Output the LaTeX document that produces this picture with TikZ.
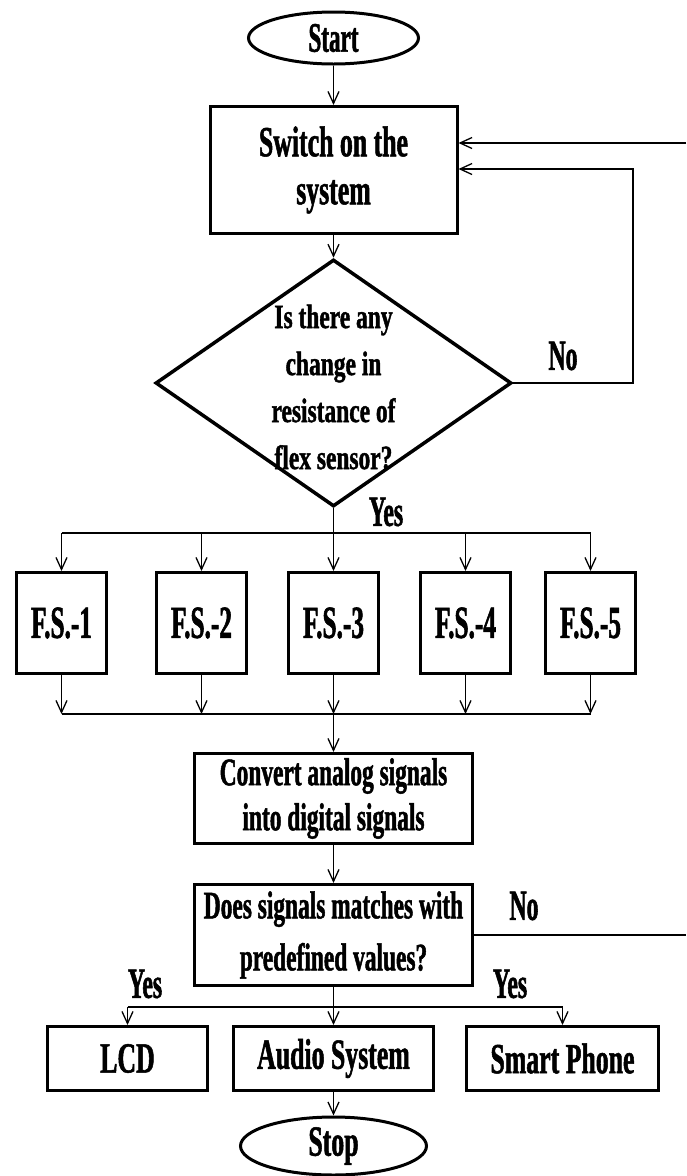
\documentclass[tikz,border=0pt]{standalone}
\usepackage{fontspec}
\setmainfont{Liberation Serif}
\newfontfamily\fA{Liberation Serif}[FakeStretch=0.55,FakeBold=1.2]
\newfontfamily\fB{Liberation Serif}[FakeStretch=0.60,FakeBold=1.2]
\newfontfamily\fC{Liberation Serif}[FakeStretch=0.69,FakeBold=1.2]
\usetikzlibrary{shapes.geometric,arrows.meta,calc}
\begin{document}
\begin{tikzpicture}[x=1pt,y=-1pt,
  box/.style={draw, line width=3pt, inner sep=0pt, align=center},
  oval/.style={draw, ellipse, line width=3pt, inner sep=0pt},
  arr/.style={line width=1.3pt, -{Straight Barb[length=12pt,width=11pt,line width=1.3pt]}},
  arrw/.style={line width=2pt, -{Straight Barb[length=12pt,width=11pt,line width=1.3pt]}},
  ln/.style={line width=2pt},
  big/.style={font=\fB\bfseries\fontsize{43}{48}\selectfont},
  mid/.style={font=\fB\bfseries\fontsize{39}{45}\selectfont},
  dec/.style={font=\fB\bfseries\fontsize{39}{52}\selectfont},
  diat/.style={font=\fC\bfseries\fontsize{34}{47}\selectfont, align=center, inner sep=0pt},
  fsb/.style={font=\fA\bfseries\fontsize{46}{50}\selectfont},
  lab/.style={font=\fA\bfseries\fontsize{43}{48}\selectfont, inner sep=0pt},
]
\useasboundingbox (0,0) rectangle (686,1176);
\fill[white] (0,0) rectangle (686,1176);

% terminals and boxes
\node[oval, minimum width=170pt, minimum height=52pt, font=\fA\bfseries\fontsize{42}{46}\selectfont] (start) at (333.5,38) {Start};
\node[box, big, minimum width=247pt, minimum height=127pt] (sw) at (333.5,170) {Switch on the\\system};
\node[draw, diamond, line width=3.5pt, minimum width=356pt, minimum height=247pt, inner sep=0pt] (d) at (333.5,383) {};
\node[diat] (dt) at (333.5,387) {Is there any\\change in\\resistance of\\flex sensor?};

\node[box, fsb, minimum width=90pt, minimum height=101pt] (f1) at (61.5,623) {F.S.-1};
\node[box, fsb, minimum width=90pt, minimum height=101pt] (f2) at (201.5,623) {F.S.-2};
\node[box, fsb, minimum width=90pt, minimum height=101pt] (f3) at (333.5,623) {F.S.-3};
\node[box, fsb, minimum width=90pt, minimum height=101pt] (f4) at (465.5,623) {F.S.-4};
\node[box, fsb, minimum width=90pt, minimum height=101pt] (f5) at (590.5,623) {F.S.-5};

\node[box, mid, minimum width=278pt, minimum height=90pt] (cv) at (333.5,798.5) {Convert analog signals\\into digital signals};
\node[box, dec, minimum width=278pt, minimum height=101pt] (dc) at (333.5,935) {Does signals matches with\\predefined values?};

\node[box, big, minimum width=160pt, minimum height=64pt] (lcd) at (127.5,1058.5) {LCD};
\node[box, big, minimum width=200pt, minimum height=64pt] (aud) at (333.5,1058.5) {Audio System};
\node[box, big, minimum width=192pt, minimum height=64pt] (sp) at (562.5,1058.5) {Smart Phone};

\node[oval, minimum width=186pt, minimum height=58pt, font=\fB\bfseries\fontsize{43}{46}\selectfont] (stop) at (333.5,1146) {Stop};

% labels
\node[lab] (no1) at (563,356) {No};
\node[lab] (yes1) at (386,512) {Yes};
\node[lab] (no2) at (524,906) {No};
\node[lab] (yes2) at (145,984) {Yes};
\node[lab] (yes3) at (510,984) {Yes};

% coordinates
\coordinate (lp) at (633,169);
\coordinate (tp) at (686,143);
\coordinate (b) at (333.5,533);
\coordinate (m) at (333.5,714);
\coordinate (nr) at (686,935);
\coordinate (yb) at (333.5,1007);

% connectors
\draw[arr] (start) -- (sw);
\draw[arr] (sw) -- (d);
\draw[arrw] (d.east) -| (lp) -- (sw.east |- lp);
\draw[arrw] (tp) -- (sw.east |- tp);

\draw[arr] (d.south) -- (f3.north);
\draw[ln] (f1.north |- b) -- (f5.north |- b);
\foreach \n in {f1,f2,f4,f5} \draw[arr] (\n.north |- b) -- (\n.north);

\foreach \n in {f1,f2,f3,f4,f5} \draw[arr] (\n.south) -- (\n.south |- m);
\draw[ln] (f1.south |- m) -- (f5.south |- m);
\draw[arr] (m) -- (cv.north);

\draw[arr] (cv) -- (dc);
\draw[ln] (dc.east) -- (nr);

\draw[arr] (dc.south) -- (aud.north);
\draw[line width=1.8pt] (lcd.north |- yb) -- (sp.north |- yb);
\draw[arr] (lcd.north |- yb) -- (lcd.north);
\draw[arr] (sp.north |- yb) -- (sp.north);
\draw[arr] (aud) -- (stop);
\end{tikzpicture}
\end{document}
